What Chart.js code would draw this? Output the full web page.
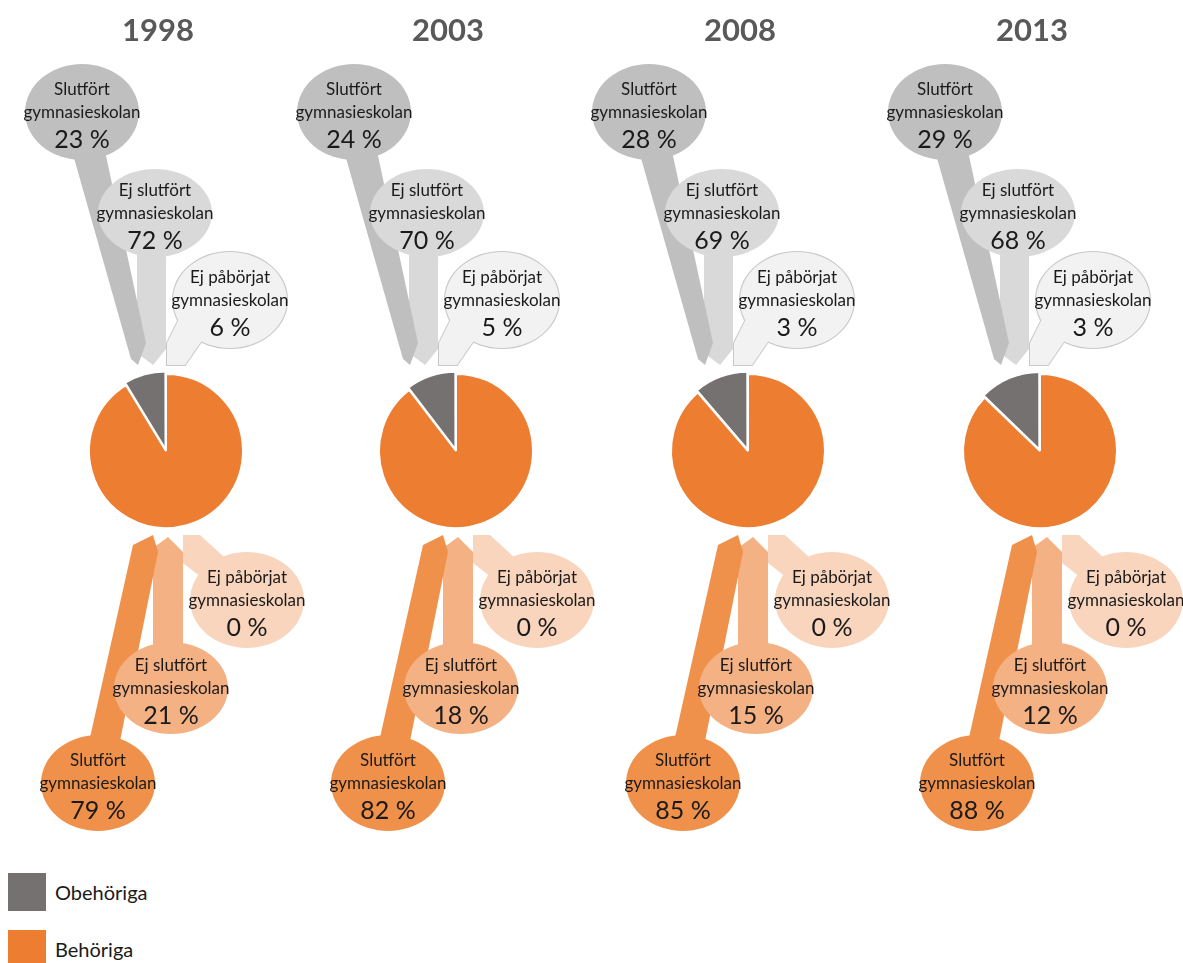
<!DOCTYPE html>
<html><head><meta charset="utf-8">
<script src="https://cdn.jsdelivr.net/npm/chart.js@4.4.1/dist/chart.umd.min.js"></script>
<style>
html,body{margin:0;padding:0;background:#fff;width:1183px;height:963px;overflow:hidden;position:relative;font-family:Lato,"Open Sans",sans-serif;}
canvas.c{position:absolute;top:0;}
#legend{position:absolute;left:8px;top:873px;}
.li{display:flex;align-items:center;height:38px;margin-bottom:19px;}
.sw{width:38px;height:38px;margin-right:9px;flex:none;}
.li span{font-size:20px;color:#1a1a1a;}
</style></head><body>
<canvas id="c0" class="c" width="330" height="860"></canvas>
<canvas id="c1" class="c" width="330" height="860"></canvas>
<canvas id="c2" class="c" width="330" height="860"></canvas>
<canvas id="c3" class="c" width="330" height="860"></canvas>
<div id="legend"></div>
<script>
// ---- data ----
const years = ['1998', '2003', '2008', '2013'];
const groupLabels = ['Behöriga', 'Obehöriga'];
const behoriga  = [91.3, 89.6, 88.7, 87.2];
const obehoriga = [8.7, 10.4, 11.3, 12.8];
const outcomeLines = [['Slutfört', 'gymnasieskolan'], ['Ej slutfört', 'gymnasieskolan'], ['Ej påbörjat', 'gymnasieskolan']];
const obehSlutfort   = [23, 24, 28, 29];
const obehEjSlutfort = [72, 70, 69, 68];
const obehEjPaborjat = [6, 5, 3, 3];
const behSlutfort    = [79, 82, 85, 88];
const behEjSlutfort  = [21, 18, 15, 12];
const behEjPaborjat  = [0, 0, 0, 0];

// ---- layout / style ----
const groupColors = ['#ED7D31', '#767171'];
const pieX = [166, 456, 748, 1040];
const topShift = [15, -3, 0, 4];
const botShift = [0, 0, 3, 5];
const W = 330, H = 860;
const FONT = 'Lato, "Open Sans", sans-serif';

// bubble shapes, relative to pie centre
const topShapes = {
  A: {ex: -99, ey: -339, rx: 57, ry: 48, fill: '#BFBFBF', tail: [[-109,-300],[-76,-300],[-35,-108],[-43,-86],[-50,-92]]},
  B: {ex: -26, ey: -238, rx: 57, ry: 44, fill: '#D9D9D9', tail: [[-44,-205],[-15,-205],[-15,-102],[-28,-86],[-44,-98]]},
  C: {ex: 49, ey: -151, rx: 57, ry: 48, fill: '#F2F2F2', stroke: '#C9C9C9', tail: [[-14,-86],[-14,-108],[-2,-132],[22,-112],[4,-86]]}
};
const botShapes = {
  D: {ex: 81, ey: 149, rx: 57, ry: 48, fill: '#F9D5BD', tail: [[17,84],[34,84],[58,106],[40,130],[17,112]]},
  E: {ex: 5, ey: 237, rx: 57, ry: 46, fill: '#F4B183', tail: [[-13,205],[-13,97],[2,86],[17,101],[17,205]]},
  F: {ex: -68, ey: 332, rx: 57, ry: 48, fill: '#F0914B', tail: [[-79,300],[-33,94],[-13,84],[-8,101],[-48,300]]}
};

function polyPath(ctx, pts, ox, oy) {
  ctx.beginPath();
  pts.forEach((p, k) => k ? ctx.lineTo(ox + p[0], oy + p[1]) : ctx.moveTo(ox + p[0], oy + p[1]));
  ctx.closePath();
}
function ellPath(ctx, s, ox, oy) {
  ctx.beginPath();
  ctx.ellipse(ox + s.ex, oy + s.ey, s.rx, s.ry, 0, 0, Math.PI * 2);
}
function drawTail(ctx, s, ox, oy) {
  polyPath(ctx, s.tail, ox, oy); ctx.fillStyle = s.fill; ctx.fill();
}
function drawEll(ctx, s, ox, oy) {
  ellPath(ctx, s, ox, oy); ctx.fillStyle = s.fill; ctx.fill();
}
function drawBordered(ctx, s, ox, oy) {
  ctx.lineWidth = 2; ctx.strokeStyle = s.stroke;
  polyPath(ctx, s.tail, ox, oy); ctx.stroke();
  ellPath(ctx, s, ox, oy); ctx.stroke();
  drawTail(ctx, s, ox, oy); drawEll(ctx, s, ox, oy);
}
function drawText(ctx, s, ox, oy, lines, value) {
  const x = ox + s.ex, y = oy + s.ey;
  ctx.fillStyle = '#1a1a1a';
  ctx.textAlign = 'center'; ctx.textBaseline = 'middle';
  ctx.font = '17px ' + FONT;
  ctx.fillText(lines[0], x, y - 22);
  ctx.fillText(lines[1], x, y + 1);
  ctx.font = '25px ' + FONT;
  ctx.fillText(value + ' %', x, y + 28);
}

const calloutPlugin = {
  id: 'callouts',
  afterDraw(chart) {
    const i = chart.options.plugins.callouts.index;
    const arc = chart.getDatasetMeta(0).data[0];
    const cx = arc.x, cy = arc.y;
    const ctx = chart.ctx;
    ctx.save();
    // title
    ctx.fillStyle = '#595959'; ctx.textAlign = 'center'; ctx.textBaseline = 'middle';
    ctx.font = 'bold 31px ' + FONT;
    ctx.fillText(years[i], cx - 8, 31);
    // top group (Obehöriga)
    const tx = cx + topShift[i];
    const T = topShapes;
    drawTail(ctx, T.B, tx, cy);
    drawTail(ctx, T.A, tx, cy);
    drawEll(ctx, T.A, tx, cy);
    drawEll(ctx, T.B, tx, cy);
    drawBordered(ctx, T.C, tx, cy);
    drawText(ctx, T.A, tx, cy, outcomeLines[0], obehSlutfort[i]);
    drawText(ctx, T.B, tx, cy, outcomeLines[1], obehEjSlutfort[i]);
    drawText(ctx, T.C, tx, cy, outcomeLines[2], obehEjPaborjat[i]);
    // bottom group (Behöriga)
    const bx = cx + botShift[i];
    const B = botShapes;
    drawTail(ctx, B.E, bx, cy);
    drawTail(ctx, B.F, bx, cy);
    drawEll(ctx, B.F, bx, cy);
    drawEll(ctx, B.E, bx, cy);
    drawTail(ctx, B.D, bx, cy);
    drawEll(ctx, B.D, bx, cy);
    drawText(ctx, B.D, bx, cy, outcomeLines[2], behEjPaborjat[i]);
    drawText(ctx, B.E, bx, cy, outcomeLines[1], behEjSlutfort[i]);
    drawText(ctx, B.F, bx, cy, outcomeLines[0], behSlutfort[i]);
    ctx.restore();
  }
};

years.forEach((yr, i) => {
  const cv = document.getElementById('c' + i);
  cv.style.left = (pieX[i] - W / 2) + 'px';
  new Chart(cv, {
    type: 'pie',
    data: {
      labels: groupLabels,
      datasets: [{
        data: [behoriga[i], obehoriga[i]],
        backgroundColor: groupColors,
        borderColor: '#ffffff',
        borderWidth: 2,
        offset: [0, 7],
        radius: 77
      }]
    },
    options: {
      responsive: false,
      animation: false,
      layout: {padding: {top: 300, bottom: 258, left: 0, right: 0}},
      plugins: {
        legend: {display: false},
        tooltip: {enabled: false},
        title: {display: false},
        callouts: {index: i}
      }
    },
    plugins: [calloutPlugin]
  });
});

// legend
const legend = document.getElementById('legend');
[1, 0].forEach(k => {
  const d = document.createElement('div'); d.className = 'li';
  const sw = document.createElement('div'); sw.className = 'sw'; sw.style.background = groupColors[k];
  const sp = document.createElement('span'); sp.textContent = groupLabels[k];
  d.appendChild(sw); d.appendChild(sp); legend.appendChild(d);
});
</script>
</body></html>
